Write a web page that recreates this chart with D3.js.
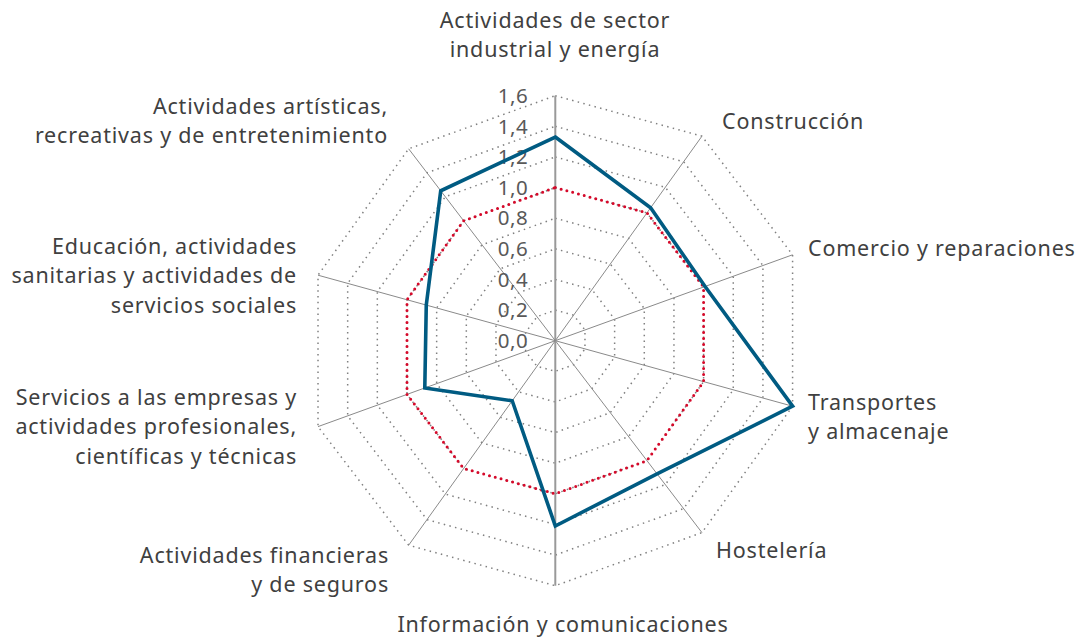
<!DOCTYPE html>
<html>
<head>
<meta charset="utf-8">
<script src="https://cdn.jsdelivr.net/npm/d3@7"></script>
<style>
  body { margin: 0; background: #fff; }
  svg text { font-family: "Noto Sans", sans-serif; }
</style>
</head>
<body>
<div id="chart"></div>
<script>
// categories, clockwise from the top
const categories = [
  ["Actividades de sector", "industrial y energía"],
  ["Construcción"],
  ["Comercio y reparaciones"],
  ["Transportes", "y almacenaje"],
  ["Hostelería"],
  ["Información y comunicaciones"],
  ["Actividades financieras", "y de seguros"],
  ["Servicios a las empresas y", "actividades profesionales,", "científicas y técnicas"],
  ["Educación, actividades", "sanitarias y actividades de", "servicios sociales"],
  ["Actividades artísticas,", "recreativas y de entretenimiento"]
];
const seriesValues = [1.33, 1.04, 1.01, 1.6, 1.11, 1.21, 0.47, 0.88, 0.87, 1.25];
const referenceValues = [1, 1, 1, 1, 1, 1, 1, 1, 1, 1];
const tickValues = [0, 0.2, 0.4, 0.6, 0.8, 1.0, 1.2, 1.4, 1.6];

const width = 1085, height = 637;
const cx = 555.3, cy = 340.7;
const shear = 0.043;   // the reference plot is slightly skewed

const svg = d3.select("#chart").append("svg")
  .attr("width", width)
  .attr("height", height);

const rx = d3.scaleLinear().domain([0, 1.6]).range([0, 249.5]);
const ry = d3.scaleLinear().domain([0, 1.6]).range([0, 245]);
const angle = d3.scaleLinear().domain([0, categories.length]).range([0, 2 * Math.PI]);

function project(i, v) {
  const a = angle(i);
  const dx = rx(v) * Math.sin(a);
  const dy = -ry(v) * Math.cos(a);
  return [cx + dx, cy + dy - shear * dx];
}

const ringLine = d3.line();
const fmt = v => d3.format(".1f")(v).replace(".", ",");

// dotted rings
svg.append("g").selectAll("path")
  .data(tickValues.filter(v => v > 0))
  .join("path")
  .attr("d", v => ringLine(categories.map((c, i) => project(i, v))) + "Z")
  .attr("fill", "none")
  .attr("stroke", "#808080")
  .attr("stroke-width", 1.5)
  .attr("stroke-dasharray", "1.5 4.3");

// spokes
svg.append("g").selectAll("line")
  .data(categories)
  .join("line")
  .attr("x1", cx).attr("y1", cy)
  .attr("x2", (d, i) => project(i, 1.6)[0])
  .attr("y2", (d, i) => project(i, 1.6)[1])
  .attr("stroke", (d, i) => (i === 0 || i === 5) ? "#999" : "#8a8a8a")
  .attr("stroke-width", (d, i) => (i === 0 || i === 5) ? 2 : 1);

// value labels
svg.append("g").selectAll("text")
  .data(tickValues)
  .join("text")
  .attr("x", cx - 27)
  .attr("y", v => project(0, v)[1])
  .attr("dy", "0.35em")
  .attr("text-anchor", "end")
  .attr("fill", "#595959")
  .attr("font-size", 20.5)
  .attr("letter-spacing", 0.5)
  .text(fmt);

// reference series (dotted red)
svg.append("path")
  .datum(referenceValues)
  .attr("d", d => ringLine(d.map((v, i) => project(i, v))) + "Z")
  .attr("fill", "none")
  .attr("stroke", "#d6092a")
  .attr("stroke-width", 3)
  .attr("stroke-linecap", "round")
  .attr("stroke-dasharray", "0 6");

// main series
svg.append("path")
  .datum(seriesValues)
  .attr("d", d => ringLine(d.map((v, i) => project(i, v))) + "Z")
  .attr("fill", "none")
  .attr("stroke", "#005b82")
  .attr("stroke-width", 3.6)
  .attr("stroke-linejoin", "miter");

// category labels
const labelPos = [
  { x: 555, y: 20, anchor: "middle" },
  { x: 722, y: 121, anchor: "start" },
  { x: 808, y: 248, anchor: "start" },
  { x: 808, y: 402, anchor: "start" },
  { x: 716, y: 550, anchor: "start" },
  { x: 563, y: 624, anchor: "middle" },
  { x: 389, y: 555, anchor: "end" },
  { x: 297, y: 397, anchor: "end" },
  { x: 297, y: 246, anchor: "end" },
  { x: 388, y: 106, anchor: "end" }
];
const lineH = 29.5;

const labels = svg.append("g").selectAll("text")
  .data(categories)
  .join("text")
  .attr("x", (d, i) => labelPos[i].x)
  .attr("y", (d, i) => labelPos[i].y)
  .attr("text-anchor", (d, i) => labelPos[i].anchor)
  .attr("fill", "#404040")
  .attr("font-size", 21.5)
  .attr("letter-spacing", 0.8);

labels.selectAll("tspan")
  .data((d, i) => d.map(t => ({ t, x: labelPos[i].x })))
  .join("tspan")
  .attr("x", d => d.x)
  .attr("dy", (d, j) => j === 0 ? "0.35em" : lineH)
  .text(d => d.t);
</script>
</body>
</html>
